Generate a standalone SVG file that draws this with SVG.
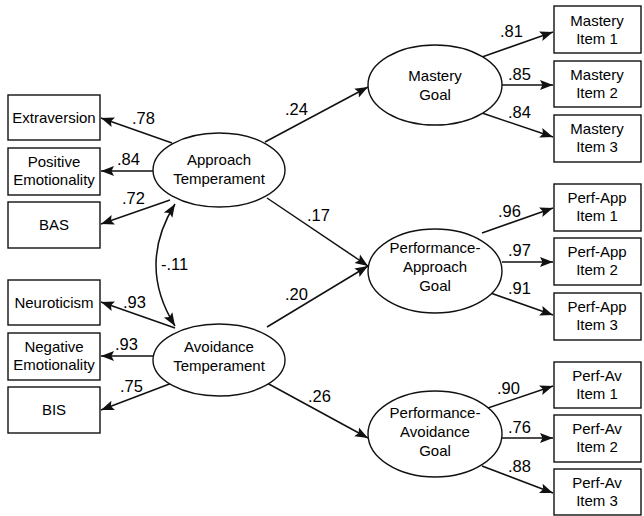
<svg xmlns="http://www.w3.org/2000/svg" width="644" height="516" viewBox="0 0 644 516">
<style>
text{font-family:"Liberation Sans",Arial,Helvetica,sans-serif;font-size:15px;fill:#000}
.c{text-anchor:middle}
.lbl{font-size:16.5px}
.box{fill:#fff;stroke:#111;stroke-width:1.4}
.ell{fill:#fff;stroke:#111;stroke-width:1.4}
.ln{fill:none;stroke:#111;stroke-width:1.5}
</style>
<defs>
<marker id="ah" markerUnits="userSpaceOnUse" markerWidth="14" markerHeight="12" viewBox="0 0 14 12" refX="13" refY="6" orient="auto-start-reverse">
<path d="M0,1 L13,6 L0,11 L2.5,6 Z" fill="#111"/>
</marker>
</defs>
<rect width="644" height="516" fill="#fff"/>
<g id="connectors">
<path class="ln" marker-end="url(#ah)" d="M172,143 L101,118"/>
<path class="ln" marker-end="url(#ah)" d="M153,171 L101,171"/>
<path class="ln" marker-end="url(#ah)" d="M170,200 L101,224"/>
<path class="ln" marker-end="url(#ah)" d="M175,328 L101,302"/>
<path class="ln" marker-end="url(#ah)" d="M153,356 L101,356"/>
<path class="ln" marker-end="url(#ah)" d="M172,383 L101,410"/>
<path class="ln" marker-start="url(#ah)" marker-end="url(#ah)" d="M175,204 Q137,265 175,326"/>
<path class="ln" marker-end="url(#ah)" d="M265,142 L368,87"/>
<path class="ln" marker-end="url(#ah)" d="M267,198 L368,266"/>
<path class="ln" marker-end="url(#ah)" d="M267,327 L368,266"/>
<path class="ln" marker-end="url(#ah)" d="M267,383 L368,438"/>
<path class="ln" marker-end="url(#ah)" d="M482,57 L553,32"/>
<path class="ln" marker-end="url(#ah)" d="M502,85 L553,85"/>
<path class="ln" marker-end="url(#ah)" d="M482,113 L553,137"/>
<path class="ln" marker-end="url(#ah)" d="M482,233 L553,208"/>
<path class="ln" marker-end="url(#ah)" d="M502,262 L553,262"/>
<path class="ln" marker-end="url(#ah)" d="M482,290 L553,315"/>
<path class="ln" marker-end="url(#ah)" d="M482,410 L553,386"/>
<path class="ln" marker-end="url(#ah)" d="M502,438 L553,438"/>
<path class="ln" marker-end="url(#ah)" d="M482,466 L553,493"/>
<text class="lbl" x="132" y="124">.78</text>
<text class="lbl" x="117" y="165">.84</text>
<text class="lbl" x="122" y="204">.72</text>
<text class="lbl" x="161" y="270">-.11</text>
<text class="lbl" x="123" y="308">.93</text>
<text class="lbl" x="115" y="350">.93</text>
<text class="lbl" x="120" y="392">.75</text>
<text class="lbl" x="285" y="115">.24</text>
<text class="lbl" x="307" y="221">.17</text>
<text class="lbl" x="285" y="300">.20</text>
<text class="lbl" x="308" y="402">.26</text>
<text class="lbl" x="500" y="37">.81</text>
<text class="lbl" x="508" y="80">.85</text>
<text class="lbl" x="508" y="118">.84</text>
<text class="lbl" x="498" y="217">.96</text>
<text class="lbl" x="508" y="256">.97</text>
<text class="lbl" x="508" y="294">.91</text>
<text class="lbl" x="497" y="394">.90</text>
<text class="lbl" x="508" y="433">.76</text>
<text class="lbl" x="508" y="472">.88</text>
</g>
<g id="extraversion"><rect class="box" x="8" y="95" width="92" height="45"/><text class="c" x="54" y="123">Extraversion</text></g>
<g id="positive-emotionality"><rect class="box" x="8" y="148" width="92" height="47"/><text class="c" x="54" y="167">Positive</text><text class="c" x="54" y="185">Emotionality</text></g>
<g id="bas"><rect class="box" x="8" y="202" width="92" height="46"/><text class="c" x="54" y="230">BAS</text></g>
<g id="neuroticism"><rect class="box" x="8" y="280" width="92" height="45"/><text class="c" x="54" y="308">Neuroticism</text></g>
<g id="negative-emotionality"><rect class="box" x="8" y="333" width="92" height="47"/><text class="c" x="54" y="352">Negative</text><text class="c" x="54" y="370">Emotionality</text></g>
<g id="bis"><rect class="box" x="8" y="387" width="92" height="46"/><text class="c" x="54" y="415">BIS</text></g>
<g id="approach-temperament"><ellipse class="ell" cx="219" cy="170" rx="66" ry="37"/><text class="c" x="219" y="165">Approach</text><text class="c" x="219" y="184">Temperament</text></g>
<g id="avoidance-temperament"><ellipse class="ell" cx="219" cy="360" rx="66" ry="36"/><text class="c" x="219" y="352">Avoidance</text><text class="c" x="219" y="371">Temperament</text></g>
<g id="mastery-goal"><ellipse class="ell" cx="435" cy="85" rx="67" ry="40"/><text class="c" x="435" y="81">Mastery</text><text class="c" x="435" y="100">Goal</text></g>
<g id="performance-approach-goal"><ellipse class="ell" cx="435" cy="271" rx="67" ry="42"/><text class="c" x="435" y="253">Performance-</text><text class="c" x="435" y="272">Approach</text><text class="c" x="435" y="291">Goal</text></g>
<g id="performance-avoidance-goal"><ellipse class="ell" cx="435" cy="434" rx="67" ry="43"/><text class="c" x="435" y="418">Performance-</text><text class="c" x="435" y="437">Avoidance</text><text class="c" x="435" y="456">Goal</text></g>
<g id="mastery-item-1"><rect class="box" x="554" y="6" width="87" height="47"/><text class="c" x="597" y="26">Mastery</text><text class="c" x="597" y="44">Item 1</text></g>
<g id="mastery-item-2"><rect class="box" x="554" y="61" width="87" height="46"/><text class="c" x="597" y="80">Mastery</text><text class="c" x="597" y="98">Item 2</text></g>
<g id="mastery-item-3"><rect class="box" x="554" y="115" width="87" height="47"/><text class="c" x="597" y="134">Mastery</text><text class="c" x="597" y="152">Item 3</text></g>
<g id="perf-app-item-1"><rect class="box" x="554" y="184" width="87" height="47"/><text class="c" x="597" y="203">Perf-App</text><text class="c" x="597" y="221">Item 1</text></g>
<g id="perf-app-item-2"><rect class="box" x="554" y="238" width="87" height="47"/><text class="c" x="597" y="257">Perf-App</text><text class="c" x="597" y="275">Item 2</text></g>
<g id="perf-app-item-3"><rect class="box" x="554" y="293" width="87" height="47"/><text class="c" x="597" y="312">Perf-App</text><text class="c" x="597" y="330">Item 3</text></g>
<g id="perf-av-item-1"><rect class="box" x="554" y="362" width="87" height="46"/><text class="c" x="597" y="381">Perf-Av</text><text class="c" x="597" y="399">Item 1</text></g>
<g id="perf-av-item-2"><rect class="box" x="554" y="415" width="87" height="47"/><text class="c" x="597" y="434">Perf-Av</text><text class="c" x="597" y="452">Item 2</text></g>
<g id="perf-av-item-3"><rect class="box" x="554" y="469" width="87" height="46"/><text class="c" x="597" y="488">Perf-Av</text><text class="c" x="597" y="506">Item 3</text></g>
</svg>
